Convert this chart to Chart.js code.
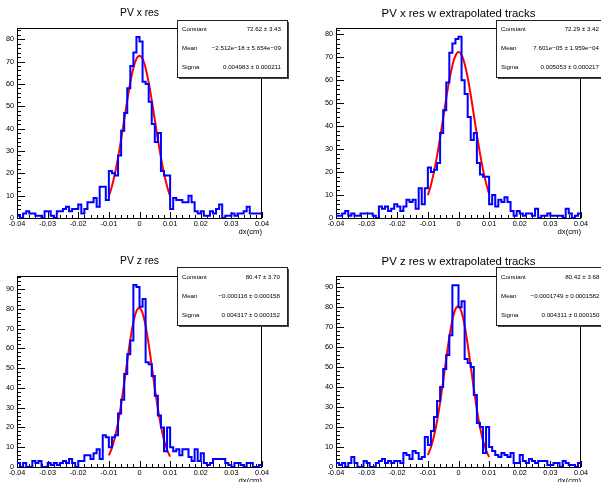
<!DOCTYPE html>
<html>
<head>
<meta charset="utf-8">
<script src="https://cdn.jsdelivr.net/npm/chart.js@4.4.1/dist/chart.umd.min.js"></script>
<style>
  body { margin: 0; background: #fff; }
  #wrap { position: relative; width: 601px; height: 482px; overflow: hidden; }
  canvas { position: absolute; }
</style>
</head>
<body>
<div id="wrap">
  <canvas id="c1" width="300" height="241" style="left:0;top:0"></canvas>
  <canvas id="c2" width="301" height="241" style="left:300px;top:0"></canvas>
  <canvas id="c3" width="300" height="241" style="left:0;top:241px"></canvas>
  <canvas id="c4" width="301" height="241" style="left:300px;top:241px"></canvas>
</div>
<script>
// binning: 80 bins from -0.04 to 0.04
const binStart = -0.04;
const binWidth = 0.001;
const xTicks = [-0.04, -0.03, -0.02, -0.01, 0, 0.01, 0.02, 0.03, 0.04];

// bin contents
const hXres = [
  1, 0, 2, 3, 2, 2, 1, 1, 0, 3,
  3, 1, 0, 3, 3, 4, 5, 3, 4, 4,
  6, 2, 4, 7, 7, 9, 5, 14, 14, 8,
  21, 20, 19, 28, 39, 47, 58, 68, 74, 81,
  79, 61, 60, 52, 42, 34, 38, 21, 19, 19,
  4, 9, 8, 8, 7, 7, 10, 7, 3, 2,
  3, 1, 1, 3, 2, 4, 6, 0, 1, 1,
  2, 1, 2, 2, 3, 5, 2, 2, 2, 2
];
const hXresExt = [
  1, 1, 2, 3, 1, 2, 1, 1, 2, 2,
  2, 2, 1, 0, 5, 4, 5, 3, 4, 6,
  5, 3, 5, 8, 7, 8, 4, 13, 6, 13,
  22, 20, 21, 24, 37, 47, 59, 72, 76, 78,
  79, 60, 54, 44, 34, 37, 24, 19, 18, 18,
  6, 10, 5, 8, 7, 9, 7, 3, 1, 3,
  2, 1, 2, 2, 1, 4, 0, 1, 1, 2,
  1, 1, 1, 1, 0, 4, 2, 0, 1, 2
];
const hZres = [
  2, 0, 2, 0, 0, 3, 2, 3, 0, 0,
  2, 1, 2, 1, 2, 3, 2, 4, 2, 0,
  3, 3, 6, 6, 4, 7, 9, 4, 16, 15,
  10, 15, 16, 27, 34, 47, 57, 64, 92, 91,
  81, 85, 53, 52, 46, 36, 26, 20, 8, 20,
  10, 8, 9, 6, 9, 9, 5, 3, 9, 3,
  7, 2, 1, 2, 4, 4, 4, 4, 2, 1,
  0, 2, 2, 1, 0, 2, 2, 0, 0, 1
];
const hZresExt = [
  2, 1, 2, 0, 2, 5, 2, 0, 0, 3,
  2, 0, 0, 2, 3, 4, 2, 3, 2, 3,
  3, 2, 7, 6, 4, 8, 7, 4, 5, 15,
  11, 18, 25, 33, 40, 49, 56, 66, 91, 91,
  80, 83, 54, 52, 50, 36, 22, 20, 7, 20,
  10, 8, 6, 5, 7, 6, 5, 7, 2, 2,
  6, 3, 2, 4, 3, 2, 3, 3, 3, 1,
  1, 2, 2, 0, 3, 2, 1, 1, 0, 2
];

// gaussian fit curves, read at these x positions
const fitX = [-0.010, -0.009, -0.008, -0.007, -0.006, -0.005, -0.004, -0.003, -0.002, -0.001, 0,
              0.001, 0.002, 0.003, 0.004, 0.005, 0.006, 0.007, 0.008, 0.009, 0.010];
const fXres = [9.7, 14.2, 20.0, 27.1, 35.2, 43.9, 52.6, 60.6, 67.0, 71.2, 72.6,
               71.2, 67.0, 60.6, 52.6, 43.9, 35.2, 27.1, 20.0, 14.2, 9.7];
const fXresExt = [9.9, 14.4, 20.2, 27.1, 35.1, 43.6, 52.2, 60.1, 66.4, 70.7, 72.3,
                  71.1, 67.2, 61.2, 53.5, 45.0, 36.4, 28.3, 21.1, 15.2, 10.5];
const fZres = [5.9, 9.7, 15.2, 22.6, 31.8, 42.4, 53.7, 64.4, 73.2, 78.8, 80.4,
               77.8, 71.4, 62.0, 51.1, 39.9, 29.5, 20.7, 13.7, 8.7, 5.2];
const fZresExt = [6.0, 9.9, 15.5, 23.0, 32.3, 43.0, 54.3, 64.9, 73.5, 79.0, 80.4,
                  77.5, 70.8, 61.3, 50.3, 39.1, 28.8, 20.1, 13.3, 8.3, 5.0];

const FONT = "'Liberation Sans', Arial, Helvetica, sans-serif";

const pads = [
  {
    id: "c1", title: "PV x res", titleSize: 10.3, titleBase: 15.7,
    counts: hXres, fit: fXres, ymax: 85,
    frame: { l: 17, r: 262, t: 28, b: 218 },
    box: { x: 177, y: 20, w: 110, h: 57 }, textL: 182, textR: 281, rows: [29, 48, 67],
    stats: [["Constant", "72.62 \u00b1 3.43"], ["Mean", "\u22122.512e\u221218 \u00b1 5.654e\u221209"], ["Sigma", "0.004983 \u00b1 0.000211"]],
  },
  {
    id: "c2", title: "PV x res w extrapolated tracks", titleSize: 11.4, titleBase: 16.5,
    counts: hXresExt, fit: fXresExt, ymax: 82.8,
    frame: { l: 36, r: 281, t: 28, b: 218 },
    box: { x: 196, y: 20, w: 120, h: 57 }, textL: 201, textR: 299, rows: [29, 48, 67],
    stats: [["Constant", "72.29 \u00b1 3.42"], ["Mean", "7.601e\u221205 \u00b1 1.959e\u221204"], ["Sigma", "0.005053 \u00b1 0.000217"]],
  },
  {
    id: "c3", title: "PV z res", titleSize: 10.3, titleBase: 23,
    counts: hZres, fit: fZres, ymax: 96.6,
    frame: { l: 17, r: 262, t: 35, b: 226 },
    box: { x: 177, y: 26, w: 110, h: 58 }, textL: 182, textR: 280, rows: [36, 55.5, 74],
    stats: [["Constant", "80.47 \u00b1 3.70"], ["Mean", "\u22120.000116 \u00b1 0.000158"], ["Sigma", "0.004317 \u00b1 0.000152"]],
  },
  {
    id: "c4", title: "PV z res w extrapolated tracks", titleSize: 11.4, titleBase: 24,
    counts: hZresExt, fit: fZresExt, ymax: 95.6,
    frame: { l: 36, r: 281, t: 35, b: 226 },
    box: { x: 196, y: 26, w: 120, h: 58 }, textL: 201, textR: 299.5, rows: [36, 55.5, 74],
    stats: [["Constant", "80.42 \u00b1 3.68"], ["Mean", "\u22120.0001749 \u00b1 0.0001582"], ["Sigma", "0.004311 \u00b1 0.000150"]],
  },
];

// ROOT-like pad: frame, inward ticks, stats box, title, axis title
const rootPad = {
  id: "rootPad",
  beforeDatasetsDraw(chart, args, opts) {
    const ctx = chart.ctx;
    const a = chart.chartArea;
    const sx = chart.scales.x;
    const sy = chart.scales.y;
    ctx.save();
    ctx.strokeStyle = "#000";
    ctx.lineWidth = 1;
    ctx.strokeRect(a.left + 0.5, a.top + 0.5, a.right - a.left - 1, a.bottom - a.top);
    ctx.beginPath();
    for (let k = 0; k <= 40; k++) {
      const v = -0.04 + k * 0.002;
      const px = Math.round(sx.getPixelForValue(v)) + 0.5;
      const len = k % 5 === 0 ? 6 : 3;
      ctx.moveTo(px, a.bottom);
      ctx.lineTo(px, a.bottom - len);
    }
    for (let v = 0; v <= opts.ymax; v += 2) {
      const py = Math.round(sy.getPixelForValue(v)) + 0.5;
      const len = v % 10 === 0 ? 8 : 4;
      ctx.moveTo(a.left, py);
      ctx.lineTo(a.left + len, py);
    }
    ctx.stroke();
    ctx.restore();
  },
  afterDraw(chart, args, opts) {
    const ctx = chart.ctx;
    const a = chart.chartArea;
    const b = opts.box;
    ctx.save();
    // stats box with shadow
    ctx.fillStyle = "#444";
    ctx.fillRect(b.x + 2, b.y + 2, b.w, b.h);
    ctx.fillStyle = "#fff";
    ctx.fillRect(b.x, b.y, b.w, b.h);
    ctx.strokeStyle = "#222";
    ctx.lineWidth = 1;
    ctx.strokeRect(b.x + 0.5, b.y + 0.5, b.w, b.h);
    ctx.fillStyle = "#000";
    ctx.font = "6.2px " + FONT;
    ctx.textBaseline = "middle";
    opts.stats.forEach((row, i) => {
      ctx.textAlign = "left";
      ctx.fillText(row[0], opts.textL, opts.rows[i]);
      ctx.textAlign = "right";
      ctx.fillText(row[1], opts.textR, opts.rows[i]);
    });
    // title
    ctx.textBaseline = "alphabetic";
    ctx.textAlign = "center";
    ctx.font = opts.titleSize + "px " + FONT;
    ctx.fillText(opts.title, (a.left + a.right) / 2, opts.titleBase);
    // axis title
    ctx.textAlign = "right";
    ctx.font = "7.7px " + FONT;
    ctx.fillText("dx(cm)", a.right, a.bottom + 15.5);
    ctx.restore();
  },
};

function histPoints(counts) {
  const pts = [{ x: binStart, y: counts[0] }];
  counts.forEach((c, i) => pts.push({ x: binStart + (i + 0.5) * binWidth, y: c }));
  pts.push({ x: binStart + counts.length * binWidth, y: counts[counts.length - 1] });
  return pts;
}

pads.forEach(function (p) {
  const canvas = document.getElementById(p.id);
  const W = canvas.width;
  const H = canvas.height;
  const f = p.frame;
  new Chart(canvas, {
    type: "line",
    data: {
      datasets: [
        {
          data: histPoints(p.counts),
          stepped: "middle",
          borderColor: "#0000ff",
          borderWidth: 2,
          pointRadius: 0,
          fill: false,
        },
        {
          data: fitX.map((x, i) => ({ x: x, y: p.fit[i] })),
          borderColor: "#ff0000",
          borderWidth: 2,
          pointRadius: 0,
          tension: 0.4,
          fill: false,
        },
      ],
    },
    options: {
      responsive: false,
      animation: false,
      devicePixelRatio: 1,
      layout: { padding: { left: 0, top: f.t, right: W - f.r, bottom: 0 } },
      plugins: {
        legend: { display: false },
        tooltip: { enabled: false },
        rootPad: {
          title: p.title, titleSize: p.titleSize, titleBase: p.titleBase,
          box: p.box, textL: p.textL, textR: p.textR, rows: p.rows, stats: p.stats,
          ymax: p.ymax,
        },
      },
      scales: {
        x: {
          type: "linear",
          min: -0.04,
          max: 0.04,
          afterFit: (s) => { s.height = H - f.b; },
          afterBuildTicks: (s) => { s.ticks = xTicks.map((v) => ({ value: v })); },
          grid: { display: false, drawTicks: false },
          border: { display: false },
          ticks: {
            autoSkip: false,
            maxRotation: 0,
            padding: 2,
            color: "#000",
            font: { family: FONT, size: 7.3 },
            callback: (v) => (Math.abs(v) < 1e-9 ? "0" : v.toFixed(2)),
          },
        },
        y: {
          type: "linear",
          min: 0,
          max: p.ymax,
          afterFit: (s) => { s.width = f.l; },
          afterBuildTicks: (s) => {
            const t = [];
            for (let v = 0; v <= p.ymax; v += 10) t.push({ value: v });
            s.ticks = t;
          },
          grid: { display: false, drawTicks: false },
          border: { display: false },
          ticks: {
            autoSkip: false,
            padding: 3,
            color: "#000",
            font: { family: FONT, size: 7.3 },
          },
        },
      },
    },
    plugins: [rootPad],
  });
});
</script>
</body>
</html>
